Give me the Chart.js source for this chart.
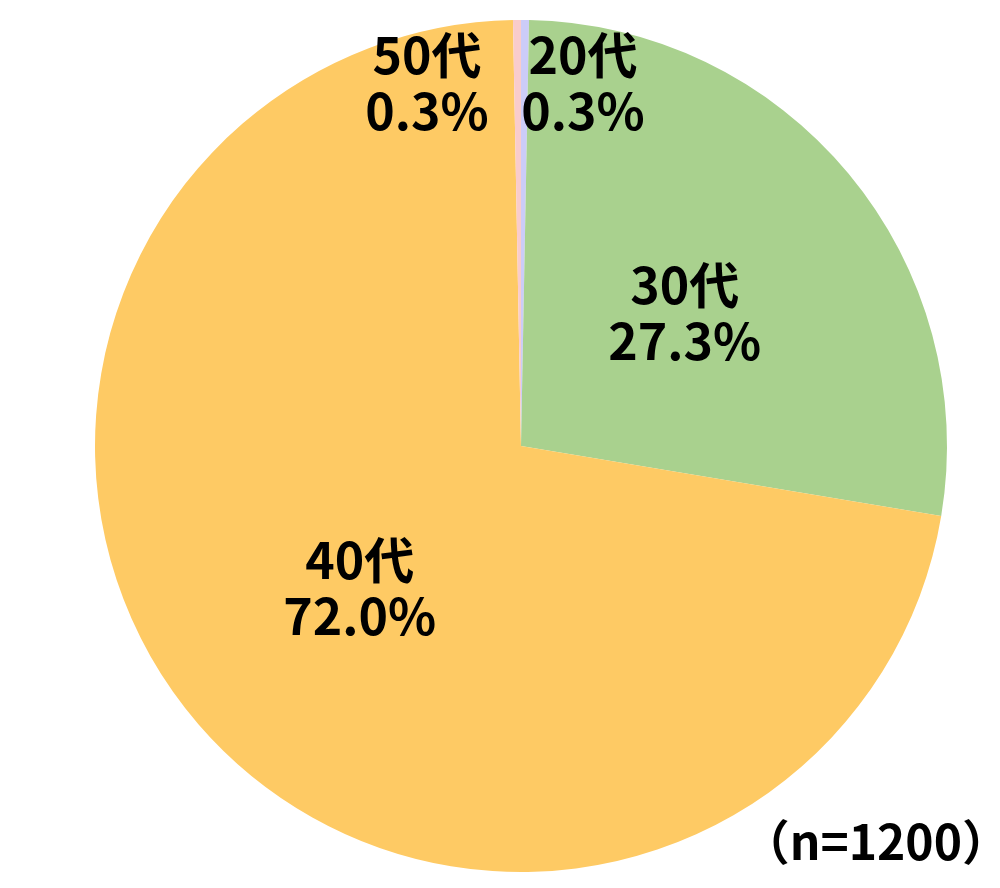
<!DOCTYPE html>
<html lang="ja">
<head>
  <meta charset="UTF-8" />
  <title>年代別構成比</title>
  <script src="https://cdn.jsdelivr.net/npm/chart.js"></script>
  <style>
    html, body { margin: 0; padding: 0; background: #fff; }
    #wrap { width: 1000px; height: 888px; }
  </style>
</head>
<body>
  <div id="wrap"><canvas id="ageChart"></canvas></div>
  <script>
    // data
    const ageLabels = ['20代', '30代', '40代', '50代'];
    const agePercents = [0.3, 27.3, 72.0, 0.3];
    const sampleNote = '（n=1200）';

    const sliceColors = ['#CCCCF8', '#A9D18E', '#FECA64', '#F9CCCC'];
    const fontStack = '"Noto Sans CJK JP", "Noto Sans", sans-serif';

    // labels: big slices inside at half radius, tiny slices sit beside the top
    const pieLabels = {
      id: 'pieLabels',
      afterDatasetsDraw(chart) {
        const ctx = chart.ctx;
        const arcs = chart.getDatasetMeta(0).data;
        ctx.save();
        ctx.font = 'bold 50px ' + fontStack;
        ctx.fillStyle = '#000';
        ctx.textAlign = 'center';
        ctx.textBaseline = 'middle';
        arcs.forEach((arc, i) => {
          const { x, y, startAngle, endAngle, outerRadius } = arc.getProps(['x', 'y', 'startAngle', 'endAngle', 'outerRadius'], true);
          const mid = (startAngle + endAngle) / 2;
          let lx, ly;
          if (agePercents[i] < 5) {
            const side = Math.cos(mid) >= 0 ? 1 : -1;
            lx = x + side * (side > 0 ? 62 : 94);
            ly = y - outerRadius * 0.86;
          } else {
            lx = x + Math.cos(mid) * outerRadius * 0.5;
            ly = y + Math.sin(mid) * outerRadius * 0.5;
          }
          ctx.fillText(ageLabels[i], lx, ly - 25);
          ctx.fillText(agePercents[i].toFixed(1) + '%', lx, ly + 31);
        });
        ctx.font = 'bold 48px ' + fontStack;
        ctx.textAlign = 'right';
        ctx.fillText(sampleNote, 1010, 842);
        ctx.restore();
      }
    };

    new Chart(document.getElementById('ageChart'), {
      type: 'pie',
      data: {
        labels: ageLabels,
        datasets: [{
          data: agePercents,
          backgroundColor: sliceColors,
          borderWidth: 0
        }]
      },
      options: {
        responsive: true,
        maintainAspectRatio: false,
        animation: false,
        layout: { padding: { left: 95, right: 53, top: 20, bottom: 16 } },
        plugins: {
          legend: { display: false },
          tooltip: { enabled: false }
        }
      },
      plugins: [pieLabels]
    });
  </script>
</body>
</html>
